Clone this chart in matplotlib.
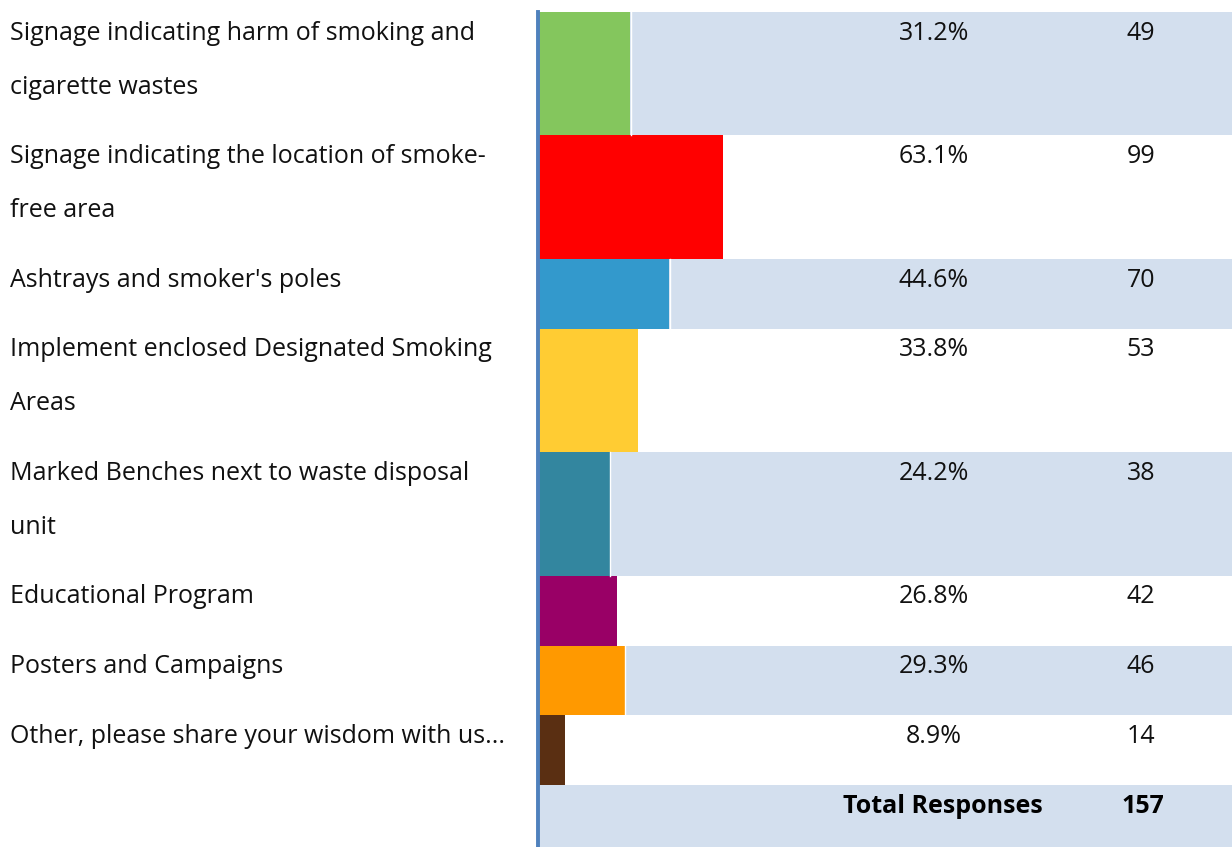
import numpy as np
import matplotlib
matplotlib.use("Agg")
from matplotlib import pyplot as plt
import matplotlib.transforms as mtransforms

# Survey answers
labels = [
    "Signage indicating harm of smoking and\ncigarette wastes",
    "Signage indicating the location of smoke-\nfree area",
    "Ashtrays and smoker's poles",
    "Implement enclosed Designated Smoking\nAreas",
    "Marked Benches next to waste disposal\nunit",
    "Educational Program",
    "Posters and Campaigns",
    "Other, please share your wisdom with us...",
]
percents = [31.2, 63.1, 44.6, 33.8, 24.2, 26.8, 29.3, 8.9]
counts = [49, 99, 70, 53, 38, 42, 46, 14]
total_responses = 157
colors = ["#84c65d", "#ff0000", "#3399cc", "#ffcc33",
          "#33869f", "#990066", "#ff9900", "#5a2f12"]

band = "#d3dfee"
fs = 18
plt.rcParams["font.family"] = ["Open Sans", "DejaVu Sans"]

W, H = 1232, 847
fig = plt.figure(figsize=(W / 100, H / 100), dpi=100)
# bar area: starts at x=539 px, top at y=12 px; 100 % = 292 px
ax = fig.add_axes([539 / W, 0, 1 - 539 / W, (H - 12) / H])
ax.set_xlim(0, (W - 539) / 2.92)
ax.set_ylim(H - 12, 0)
ax.axis("off")

# row heights in pixel units, depend on number of label lines
nlines = [len(l.split("\n")) for l in labels]
heights = [16 + 53.75 * n for n in nlines]
tops = np.concatenate([[0], np.cumsum(heights)[:-1]])

lab_tr = mtransforms.blended_transform_factory(fig.transFigure, ax.transData)
pct_tr = mtransforms.blended_transform_factory(
    mtransforms.Affine2D().scale(1.0 / W, 1.0) + fig.transFigure, ax.transData)

pad = 21
for i in range(len(labels)):
    if i % 2 == 0:
        ax.barh(tops[i], ax.get_xlim()[1], height=heights[i], align="edge",
                color=band, linewidth=0)
        ax.plot([percents[i] + 0.2] * 2, [tops[i], tops[i] + heights[i]],
                color="white", lw=1)
    ax.barh(tops[i], percents[i], height=heights[i], align="edge",
            color=colors[i], linewidth=0)
    for k, line in enumerate(labels[i].split("\n")):
        y = tops[i] + pad + 54 * k
        fig.text(10 / W, y, line, transform=lab_tr, fontsize=fs,
                 va="center", ha="left", color="#111111")
    fig.text(934, tops[i] + pad, f"{percents[i]}%", transform=pct_tr,
             fontsize=fs, va="center", ha="center", color="#111111")
    fig.text(1141, tops[i] + pad, str(counts[i]), transform=pct_tr,
             fontsize=fs, va="center", ha="center", color="#111111")

# total row
tot_top = tops[-1] + heights[-1]
ax.barh(tot_top, ax.get_xlim()[1], height=H - 12 - tot_top, align="edge",
        color=band, linewidth=0)
fig.text(943, tot_top + pad, "Total Responses", transform=pct_tr,
         fontsize=fs, fontweight="bold", va="center", ha="center")
fig.text(1143, tot_top + pad, str(total_responses), transform=pct_tr,
         fontsize=fs, fontweight="bold", va="center", ha="center")

# left axis line
ax.axvline(-0.3, color="#4f81bd", lw=2.8, clip_on=False)

fig.savefig("out.png", dpi=100)
